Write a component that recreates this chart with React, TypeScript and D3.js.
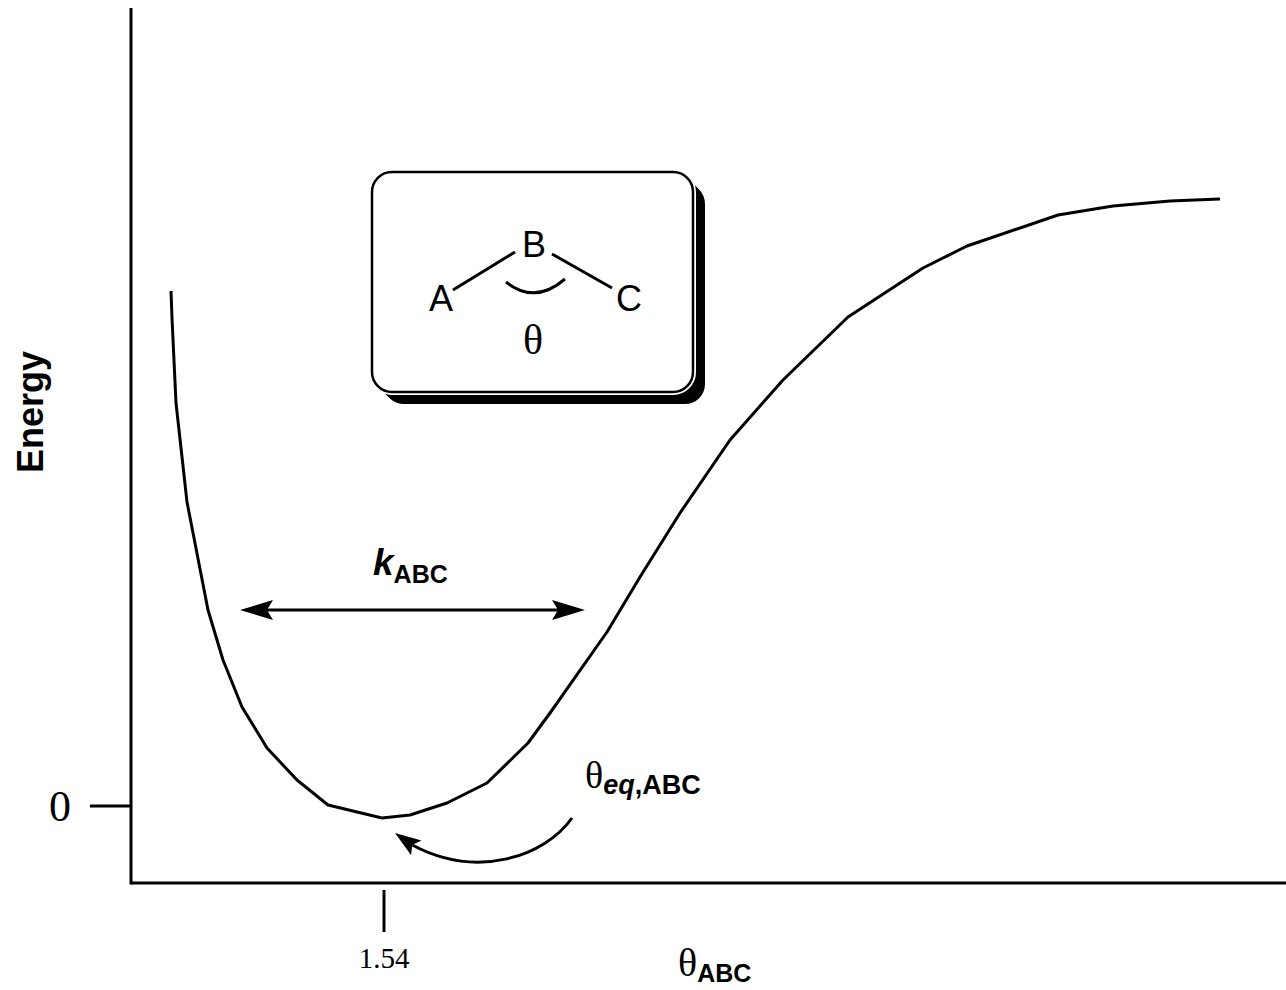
import React from 'react';
import * as d3 from 'd3';

const WIDTH = 1286;
const HEIGHT = 990;

// bond angle (rad) and energy
const thetaValues = [
  1.114, 1.116, 1.124, 1.146, 1.188, 1.218, 1.256, 1.306, 1.366, 1.428, 1.536, 1.592, 1.666,
  1.746, 1.828, 1.872, 1.986, 2.052, 2.132, 2.232, 2.338, 2.468, 2.618, 2.706, 2.888, 2.998,
  3.112, 3.212,
];
const energyValues = [
  5.15, 4.88, 4.03, 3.04, 1.96, 1.46, 0.99, 0.58, 0.26, 0.01, -0.12, -0.09, 0.03, 0.23, 0.63,
  0.93, 1.74, 2.29, 2.93, 3.66, 4.26, 4.89, 5.38, 5.6, 5.91, 6.0, 6.05, 6.07,
];
const xTicks = [1.54];
const xTickLabels = ['1.54'];
const yTicks = [0];
const yTickLabels = ['0'];

// force-constant span, data units
const kSpan = [1.252, 1.942];
const kLevel = 1.96;

const SANS = '"Liberation Sans", Arial, Helvetica, sans-serif';
const SERIF = '"Liberation Serif", "Times New Roman", serif';
const SW = 3;

const Arrowhead = ({ x, y, angle, len = 33, half = 10, notch = 6 }) => (
  <path
    transform={`translate(${x},${y}) rotate(${angle})`}
    d={`M0,0 L${-len},${-half} L${-len + notch},0 L${-len},${half} Z`}
    fill="#000"
  />
);

export default function App() {
  const x = d3.scaleLinear().domain([1.034, 3.344]).range([131, 1286]);
  const y = d3.scaleLinear().domain([-0.77, 7.98]).range([883, 8]);

  const pts = thetaValues.map((t, i) => [t, energyValues[i]] as [number, number]);
  const line = d3
    .line<[number, number]>()
    .x((d) => x(d[0]))
    .y((d) => y(d[1]))
    .curve(d3.curveLinear);

  const x0 = x.range()[0];
  const yBase = y.range()[0];

  const kx1 = x(kSpan[0]);
  const kx2 = x(kSpan[1]);
  const ky = y(kLevel);

  // curved arrow pointing at the minimum
  const tip = [395, 833];
  const ang = -145;
  const rad = (ang * Math.PI) / 180;
  const back = [tip[0] - 21 * Math.cos(rad), tip[1] - 21 * Math.sin(rad)];
  const curve = `M572,818 C545,856 478,880 ${back[0]},${back[1]}`;

  // inset box
  const bx = 372, by = 172, bw = 321, bh = 220, br = 20;

  return (
    <svg
      width={WIDTH}
      height={HEIGHT}
      style={{ position: 'absolute', left: 0, top: 0, background: '#fff' }}
    >
      {/* axes */}
      <line x1={x0} y1={8} x2={x0} y2={yBase + SW / 2} stroke="#000" strokeWidth={SW} />
      <line x1={x0} y1={yBase} x2={WIDTH} y2={yBase} stroke="#000" strokeWidth={SW} />

      {yTicks.map((t, i) => (
        <g key={`y${i}`}>
          <line x1={90} x2={x0} y1={y(t)} y2={y(t)} stroke="#000" strokeWidth={SW} />
          <text x={60} y={y(t) + 15} fontFamily={SERIF} fontSize={44} textAnchor="middle">
            {yTickLabels[i]}
          </text>
        </g>
      ))}
      {xTicks.map((t, i) => (
        <g key={`x${i}`}>
          <line x1={x(t)} x2={x(t)} y1={890} y2={932} stroke="#000" strokeWidth={SW} />
          <text x={x(t)} y={968} fontFamily={SERIF} fontSize={29} textAnchor="middle">
            {xTickLabels[i]}
          </text>
        </g>
      ))}

      {/* axis titles */}
      <text
        transform="translate(43,412) rotate(-90)"
        fontFamily={SANS}
        fontWeight="bold"
        fontSize={36}
        textAnchor="middle"
      >
        Energy
      </text>
      <text x={678} y={976} fontFamily={SERIF} fontSize={40}>
        θ
        <tspan fontFamily={SANS} fontWeight="bold" fontSize={25} dy={6}>
          ABC
        </tspan>
      </text>

      {/* energy curve */}
      <path d={line(pts)} fill="none" stroke="#000" strokeWidth={SW} strokeLinejoin="round" />

      {/* k_ABC */}
      <text x={373} y={575} fontFamily={SANS} fontWeight="bold" fontSize={37}>
        <tspan fontStyle="italic">k</tspan>
        <tspan fontSize={25} dy={8}>
          ABC
        </tspan>
      </text>
      <line x1={kx1 + 26} x2={kx2 - 26} y1={ky} y2={ky} stroke="#000" strokeWidth={SW} />
      <Arrowhead x={kx1} y={ky} angle={180} />
      <Arrowhead x={kx2} y={ky} angle={0} />

      {/* theta_eq */}
      <text x={585} y={788} fontFamily={SERIF} fontSize={38}>
        θ
        <tspan fontFamily={SANS} fontWeight="bold" fontStyle="italic" fontSize={27} dy={6}>
          eq
        </tspan>
        <tspan fontFamily={SANS} fontWeight="bold" fontSize={27}>
          ,ABC
        </tspan>
      </text>
      <path d={curve} fill="none" stroke="#000" strokeWidth={SW} />
      <Arrowhead x={tip[0]} y={tip[1]} angle={ang} len={26} half={9} notch={5} />

      {/* inset molecule box */}
      {d3.range(4, 13).map((o) => (
        <rect key={o} x={bx + o} y={by + o} width={bw} height={bh} rx={br} fill="#000" />
      ))}
      <rect x={bx} y={by} width={bw} height={bh} rx={br} fill="#fff" stroke="#fff" strokeWidth={6} />
      <rect x={bx} y={by} width={bw} height={bh} rx={br} fill="#fff" stroke="#000" strokeWidth={2.5} />
      <line x1={453} y1={290} x2={515} y2={252} stroke="#000" strokeWidth={SW} />
      <line x1={552} y1={254} x2={612} y2={288} stroke="#000" strokeWidth={SW} />
      <path d="M506,282 Q535,305 565,279" fill="none" stroke="#000" strokeWidth={SW} />
      <text x={534} y={257} fontFamily={SANS} fontSize={36} textAnchor="middle">
        B
      </text>
      <text x={441} y={311} fontFamily={SANS} fontSize={36} textAnchor="middle">
        A
      </text>
      <text x={629} y={311} fontFamily={SANS} fontSize={36} textAnchor="middle">
        C
      </text>
      <text x={533} y={354} fontFamily={SERIF} fontSize={42} textAnchor="middle">
        θ
      </text>
    </svg>
  );
}
